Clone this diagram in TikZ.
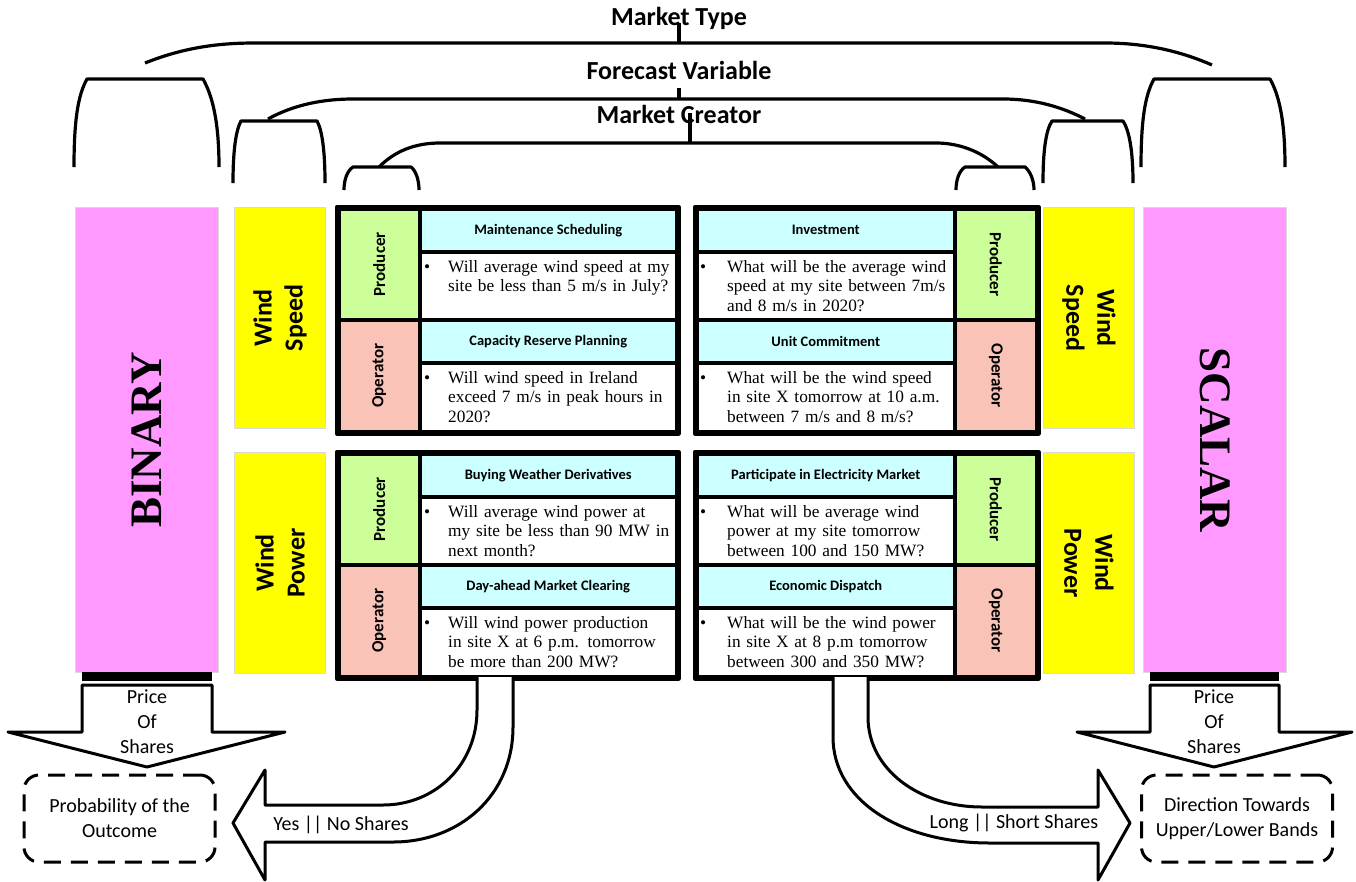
\documentclass[tikz,border=0pt]{standalone}
\usepackage{fontspec}
\setmainfont{Liberation Serif}
\setsansfont{Carlito}
\usepackage{tikz}
\usetikzlibrary{positioning}

\definecolor{binpink}{HTML}{FF99FF}
\definecolor{varyellow}{HTML}{FFFF00}
\definecolor{prodgreen}{HTML}{CCFF99}
\definecolor{opsalmon}{HTML}{F9C3B8}
\definecolor{headcyan}{HTML}{CCFFFF}

\begin{document}
\begin{tikzpicture}[x=1pt, y=-1pt, line join=round,
    typebox/.style={draw=gray!30, line width=1pt, fill=binpink, anchor=north west, minimum width=143pt, minimum height=465pt},
    varbox/.style={draw=gray!30, line width=1pt, fill=varyellow, anchor=north west, minimum width=91pt, minimum height=221pt},
    cell/.style={draw, line width=3.5pt, anchor=north west, inner sep=0pt},
    prodcell/.style={cell, fill=prodgreen, minimum width=81pt, minimum height=111pt},
    opcell/.style={cell, fill=opsalmon, minimum width=81pt, minimum height=112pt},
    headcell/.style={cell, fill=headcyan, minimum height=43pt, font=\sffamily\bfseries\fontsize{14.5}{16}\selectfont},
    qcell/.style={cell, fill=white},
    qtext/.style={anchor=base west, inner sep=0pt, text width=235pt, align=left, font=\fontsize{17.3}{19.5}\selectfont},
    typetext/.style={font=\bfseries\fontsize{45}{45}\selectfont},
    vartext/.style={align=center, font=\sffamily\bfseries\fontsize{26}{31}\selectfont},
    roletext/.style={font=\sffamily\bfseries\fontsize{17}{19}\selectfont},
    toptitle/.style={font=\sffamily\bfseries\fontsize{26}{30}\selectfont, inner sep=1pt},
    brace/.style={line width=3.2pt},
    arrowtext/.style={align=center, font=\sffamily\fontsize{20}{25}\selectfont},
    outcome/.style={draw, line width=3pt, dash pattern=on 17pt off 10pt, rounded corners=15pt, minimum width=191pt, minimum height=87pt, align=center, font=\sffamily\fontsize{20}{25}\selectfont},
    blockarrow/.style={draw, fill=white, line width=3pt}]
    \useasboundingbox (0,0) rectangle (1356,881);

    % Market types
    \node (binary) [typebox] at (75,207) {};
    \node (scalar) [typebox] at (1143,207) {};
    \node (tBinary) [typetext, rotate=90] at (binary.center) {BINARY};
    \node (tScalar) [typetext, rotate=-90] at (scalar.center) {SCALAR};

    % Forecast variables
    \node (speedL) [varbox] at (234,207) {};
    \node (powerL) [varbox] at (234,452) {};
    \node (speedR) [varbox] at (1043,207) {};
    \node (powerR) [varbox] at (1043,452) {};
    \node (tSpeedL) [vartext, rotate=90] at (speedL.center) {Wind\\Speed};
    \node (tPowerL) [vartext, rotate=90] at (powerL.center) {Wind\\Power};
    \node (tSpeedR) [vartext, rotate=-90] at (speedR.center) {Wind\\Speed};
    \node (tPowerR) [vartext, rotate=-90] at (powerR.center) {Wind\\Power};

    % Binary / wind speed
    \node (prodSL) [prodcell] at (337,207) {};
    \node (opSL) [opcell] at (337,318) {};
    \node (headSL1) [headcell, minimum width=257pt] at (418,207) {Maintenance Scheduling};
    \node (qSL1) [qcell, minimum width=257pt, minimum height=68pt] at (418,250) {};
    \node (headSL2) [headcell, minimum width=257pt] at (418,318) {Capacity Reserve Planning};
    \node (qSL2) [qcell, minimum width=257pt, minimum height=69pt] at (418,361) {};
    \draw[line width=4.5pt] (prodSL.north west) rectangle (qSL2.south east);

    % Binary / wind power
    \node (prodPL) [prodcell] at (337,452) {};
    \node (opPL) [opcell] at (337,563) {};
    \node (headPL1) [headcell, minimum width=257pt] at (418,452) {Buying Weather Derivatives};
    \node (qPL1) [qcell, minimum width=257pt, minimum height=68pt] at (418,495) {};
    \node (headPL2) [headcell, minimum width=257pt] at (418,563) {Day-ahead Market Clearing};
    \node (qPL2) [qcell, minimum width=257pt, minimum height=69pt] at (418,606) {};
    \draw[line width=4.5pt] (prodPL.north west) rectangle (qPL2.south east);

    % Scalar / wind speed
    \node (prodSR) [prodcell, minimum width=82pt] at (953,207) {};
    \node (opSR) [opcell, minimum width=82pt] at (953,318) {};
    \node (headSR1) [headcell, minimum width=258pt] at (695,207) {Investment};
    \node (qSR1) [qcell, minimum width=258pt, minimum height=68pt] at (695,250) {};
    \node (headSR2) [headcell, minimum width=258pt] at (695,318) {Unit Commitment};
    \node (qSR2) [qcell, minimum width=258pt, minimum height=69pt] at (695,361) {};
    \draw[line width=4.5pt] (headSR1.north west) rectangle (opSR.south east);

    % Scalar / wind power
    \node (prodPR) [prodcell, minimum width=82pt] at (953,452) {};
    \node (opPR) [opcell, minimum width=82pt] at (953,563) {};
    \node (headPR1) [headcell, minimum width=258pt] at (695,452) {Participate in Electricity Market};
    \node (qPR1) [qcell, minimum width=258pt, minimum height=68pt] at (695,495) {};
    \node (headPR2) [headcell, minimum width=258pt] at (695,563) {Economic Dispatch};
    \node (qPR2) [qcell, minimum width=258pt, minimum height=69pt] at (695,606) {};
    \draw[line width=4.5pt] (headPR1.north west) rectangle (opPR.south east);

    % Market creators
    \node (tProdSL) [roletext, rotate=90] at (prodSL.center) {Producer};
    \node (tOpSL) [roletext, rotate=90] at (opSL.center) {Operator};
    \node (tProdPL) [roletext, rotate=90] at (prodPL.center) {Producer};
    \node (tOpPL) [roletext, rotate=90] at (opPL.center) {Operator};
    \node (tProdSR) [roletext, rotate=-90] at (prodSR.center) {Producer};
    \node (tOpSR) [roletext, rotate=-90] at (opSR.center) {Operator};
    \node (tProdPR) [roletext, rotate=-90] at (prodPR.center) {Producer};
    \node (tOpPR) [roletext, rotate=-90] at (opPR.center) {Operator};

    % Questions
    \node (tqSL1) [qtext] at (448,272) {\llap{\textbullet\hspace{18pt}}Will average wind speed at my\\site be less than 5 m/s in July?};
    \node (tqSL2) [qtext] at (448,383) {\llap{\textbullet\hspace{18pt}}Will wind speed in Ireland\\exceed 7 m/s in peak hours in\\2020?};
    \node (tqPL1) [qtext] at (448,517) {\llap{\textbullet\hspace{18pt}}Will average wind power at\\my site be less than 90 MW in\\next month?};
    \node (tqPL2) [qtext] at (448,628) {\llap{\textbullet\hspace{18pt}}Will wind power production\\in site X at 6 p.m. tomorrow\\be more than 200 MW?};
    \node (tqSR1) [qtext] at (727,272) {\llap{\textbullet\hspace{21pt}}What will be the average wind\\speed at my site between 7m/s\\and 8 m/s in 2020?};
    \node (tqSR2) [qtext] at (727,383) {\llap{\textbullet\hspace{21pt}}What will be the wind speed\\in site X tomorrow at 10 a.m.\\between 7 m/s and 8 m/s?};
    \node (tqPR1) [qtext] at (727,517) {\llap{\textbullet\hspace{21pt}}What will be average wind\\power at my site tomorrow\\between 100 and 150 MW?};
    \node (tqPR2) [qtext] at (727,628) {\llap{\textbullet\hspace{21pt}}What will be the wind power\\in site X at 8 p.m tomorrow\\between 300 and 350 MW?};

    % Titles and braces
    \node (mtype) [toptitle] at (679,18) {Market Type};
    \node (fvar) [toptitle] at (679,70) {Forecast Variable};
    \node (mcreator) [toptitle] at (679,114) {Market Creator};
    \draw[brace] (679,23) -- (679,43);
    \draw[brace] (679,88) -- (679,99);
    \draw[brace] (690,113) -- (690,143);
    \draw[brace] (145,63) .. controls (185,47) and (220,43) .. (255,43) -- (1105,43) .. controls (1145,43) and (1180,51) .. (1212,65);
    \draw[brace] (268,119) .. controls (295,104) and (325,99) .. (353,99) -- (1003,99) .. controls (1035,99) and (1062,107) .. (1085,119);
    \draw[brace] (379,167) .. controls (395,151) and (415,143) .. (440,143) -- (936,143) .. controls (960,143) and (982,152) .. (998,167);
    \draw[brace] (74,167) .. controls (74,120) and (78,95) .. (87,79) -- (203,79) .. controls (212,95) and (219,120) .. (219,167);
    \draw[brace] (1141,167) .. controls (1141,120) and (1145,95) .. (1154,79) -- (1270,79) .. controls (1279,95) and (1285,120) .. (1285,167);
    \draw[brace] (233,183) .. controls (233,150) and (236,130) .. (241,121) -- (317,121) .. controls (322,130) and (325,150) .. (325,183);
    \draw[brace] (1043,183) .. controls (1043,150) and (1046,130) .. (1052,121) -- (1123,121) .. controls (1129,130) and (1133,150) .. (1133,183);
    \draw[brace] (344,190) .. controls (344,180) and (347,171) .. (353,167) -- (411,167) .. controls (416,171) and (419,180) .. (419,190);
    \draw[brace] (956,190) .. controls (956,180) and (959,171) .. (965,167) -- (1025,167) .. controls (1030,171) and (1034,180) .. (1034,190);

    % Price arrows
    \draw[blockarrow] (82,685) -- (82,732) -- (8,732) -- (147,767) -- (285,732) -- (212,732) -- (212,685) -- cycle;
    \fill (82,672) rectangle (212,681);
    \draw[blockarrow] (1150,685) -- (1150,732) -- (1077,732) -- (1214,767) -- (1352,732) -- (1279,732) -- (1279,685) -- cycle;
    \fill (1150,672) rectangle (1279,681);
    \node (priceL) [arrowtext] at (147,722) {Price\\Of\\Shares};
    \node (priceR) [arrowtext] at (1214,722) {Price\\Of\\Shares};

    % Share arrows
    \draw[blockarrow] (513,677) -- (513,727) .. controls (513,795) and (460,842) .. (393,842) -- (265,842) -- (265,880) -- (233,823) -- (265,770) -- (265,805) -- (383,805) .. controls (435,805) and (477,765) .. (477,710) -- (477,677);
    \draw[blockarrow] (833,677) -- (833,737) .. controls (833,800) and (900,843) .. (990,843) -- (1098,843) -- (1098,880) -- (1130,823) -- (1098,770) -- (1098,807) -- (982,807) .. controls (920,807) and (868,770) .. (868,717) -- (868,677);
    \node (yesno) [arrowtext] at (341,825) {Yes || No Shares};
    \node (longshort) [arrowtext] at (1014,823) {Long || Short Shares};

    % Outcomes
    \node (prob) [outcome] at (119.5,818.5) {Probability of the\\Outcome};
    \node (direction) [outcome] at (1237,818.5) {Direction Towards\\Upper/Lower Bands};
\end{tikzpicture}
\end{document}
